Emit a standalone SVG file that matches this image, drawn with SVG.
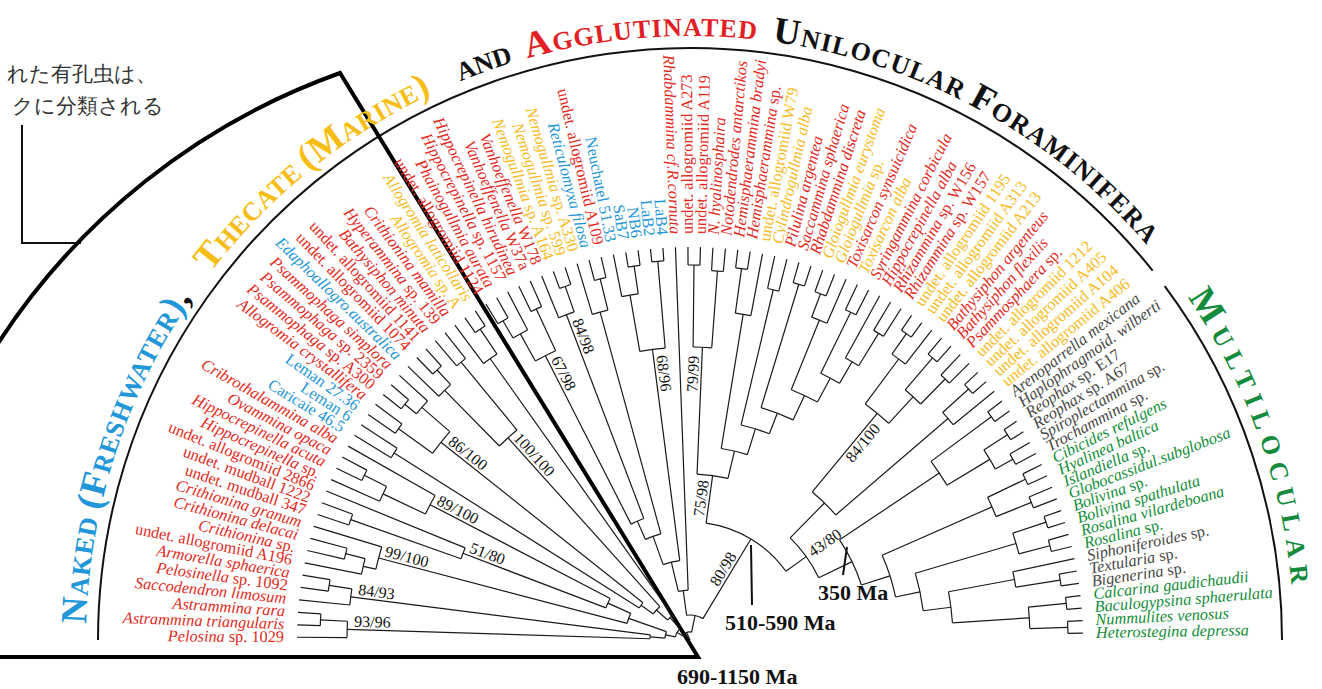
<svg xmlns="http://www.w3.org/2000/svg" xmlns:xlink="http://www.w3.org/1999/xlink" width="1322" height="689" viewBox="0 0 1322 689">
<defs>
<style>
text{font-family:"Liberation Serif","Times New Roman",serif}
.tx text{font-size:16.3px}
.L{text-anchor:end}
.i{font-style:italic}
.r{fill:#e32a1e}.y{fill:#f7bb22}.b{fill:#2496d6}.g{fill:#128c3a}.k{fill:#474747}
.br line,.br circle{stroke:#1a1a1a;stroke-width:1.2;fill:none}
.bs text{font-size:16px;text-anchor:middle;fill:#111}
.hd{font-weight:bold;font-size:26px}
.big{font-size:37px}
.ma{font-weight:bold;font-size:22px;fill:#111}
</style>
<path id="hp" d="M 86,640 A 604 604 0 0 1 1294,640"/>
</defs>
<rect width="1322" height="689" fill="#fff"/>

<g id="note">
<text x="7" y="81" font-family="'Noto Sans CJK JP',sans-serif" font-size="21" fill="#333">れた有孔虫は、</text>
<text x="12" y="113" font-family="'Noto Sans CJK JP',sans-serif" font-size="21" fill="#333">クに分類される</text>
<path d="M 22,125 V 243 H 81" fill="none" stroke="#111" stroke-width="2"/>
</g>

<g id="frame" fill="none" stroke="#111">
<path d="M 98,640 A 592 592 0 0 1 1152.6,270.6" stroke-width="2"/>
<path d="M 1164.7,286.2 A 592 592 0 0 1 1282,640" stroke-width="2"/>
</g>

<g id="highlight">
<path d="M -5,348 A 681 681 0 0 1 340,73 L 698,657 L -5,657" fill="none" stroke="#000" stroke-width="4" stroke-linejoin="miter"/>
</g>

<g id="headers" class="hd">
<text fill="#2196d8" letter-spacing="1"><textPath href="#hp" startOffset="16"><tspan class="big">N</tspan>AKED <tspan class="big">(F</tspan>RESHWATER<tspan class="big">)</tspan><tspan class="big" fill="#111">,</tspan></textPath></text>
<text fill="#f7bd14" letter-spacing="0.3"><textPath href="#hp" startOffset="395"><tspan class="big">T</tspan>HECATE <tspan class="big">(M</tspan>ARINE<tspan class="big">)</tspan></textPath></text>
<text fill="#111"><textPath href="#hp" startOffset="713">AND</textPath></text>
<text fill="#e31e24" letter-spacing="1"><textPath href="#hp" startOffset="784"><tspan class="big">A</tspan>GGLUTINATED</textPath></text>
<text fill="#111" letter-spacing="1.3"><textPath href="#hp" startOffset="1031"><tspan class="big">U</tspan>NILOCULAR <tspan class="big">F</tspan>ORAMINIFERA</textPath></text>
<text fill="#138a3c" letter-spacing="7.5"><textPath href="#hp" startOffset="1533"><tspan class="big">M</tspan>ULTILOCULAR</textPath></text>
</g>

<g id="connectors" class="br" transform="translate(690,640)">
<line x1="343" x2="393" transform="rotate(-179.60)"/>
<line x1="370" x2="393" transform="rotate(-177.78)"/>
<line x1="370" x2="393" transform="rotate(-175.96)"/>
<line x1="342" x2="393" transform="rotate(-174.13)"/>
<line x1="365" x2="393" transform="rotate(-172.31)"/>
<line x1="365" x2="393" transform="rotate(-170.49)"/>
<line x1="335" x2="393" transform="rotate(-168.67)"/>
<line x1="355" x2="393" transform="rotate(-166.84)"/>
<line x1="355" x2="393" transform="rotate(-165.02)"/>
<line x1="322" x2="393" transform="rotate(-163.20)"/>
<line x1="360" x2="393" transform="rotate(-161.38)"/>
<line x1="360" x2="393" transform="rotate(-159.55)"/>
<line x1="243" x2="393" transform="rotate(-157.73)"/>
<line x1="340" x2="393" transform="rotate(-155.91)"/>
<line x1="365" x2="393" transform="rotate(-154.09)"/>
<line x1="365" x2="393" transform="rotate(-152.26)"/>
<line x1="293" x2="393" transform="rotate(-150.44)"/>
<line x1="350" x2="393" transform="rotate(-148.62)"/>
<line x1="350" x2="393" transform="rotate(-146.80)"/>
<line x1="360" x2="393" transform="rotate(-144.97)"/>
<line x1="360" x2="393" transform="rotate(-143.15)"/>
<line x1="370" x2="393" transform="rotate(-141.33)"/>
<line x1="370" x2="393" transform="rotate(-139.51)"/>
<line x1="355" x2="393" transform="rotate(-137.68)"/>
<line x1="350" x2="393" transform="rotate(-135.86)"/>
<line x1="370" x2="393" transform="rotate(-134.04)"/>
<line x1="370" x2="393" transform="rotate(-132.22)"/>
<line x1="360" x2="393" transform="rotate(-130.40)"/>
<line x1="360" x2="393" transform="rotate(-128.57)"/>
<line x1="345" x2="393" transform="rotate(-126.75)"/>
<line x1="375" x2="393" transform="rotate(-124.93)"/>
<line x1="375" x2="393" transform="rotate(-123.11)"/>
<line x1="370" x2="393" transform="rotate(-121.28)"/>
<line x1="370" x2="393" transform="rotate(-119.46)"/>
<line x1="350" x2="393" transform="rotate(-117.64)"/>
<line x1="365" x2="393" transform="rotate(-115.82)"/>
<line x1="365" x2="393" transform="rotate(-113.99)"/>
<line x1="348" x2="393" transform="rotate(-112.17)"/>
<line x1="375" x2="393" transform="rotate(-110.35)"/>
<line x1="375" x2="393" transform="rotate(-108.53)"/>
<line x1="340" x2="393" transform="rotate(-106.70)"/>
<line x1="372" x2="393" transform="rotate(-104.88)"/>
<line x1="372" x2="393" transform="rotate(-103.06)"/>
<line x1="350" x2="393" transform="rotate(-101.24)"/>
<line x1="378" x2="393" transform="rotate(-99.41)"/>
<line x1="378" x2="393" transform="rotate(-97.59)"/>
<line x1="380" x2="393" transform="rotate(-95.77)"/>
<line x1="380" x2="393" transform="rotate(-93.95)"/>
<line x1="50" x2="393" transform="rotate(-92.12)"/>
<line x1="375" x2="393" transform="rotate(-90.30)"/>
<line x1="375" x2="393" transform="rotate(-88.48)"/>
<line x1="370" x2="393" transform="rotate(-86.66)"/>
<line x1="370" x2="393" transform="rotate(-84.83)"/>
<line x1="375" x2="393" transform="rotate(-83.01)"/>
<line x1="375" x2="393" transform="rotate(-81.19)"/>
<line x1="330" x2="393" transform="rotate(-79.37)"/>
<line x1="360" x2="393" transform="rotate(-77.55)"/>
<line x1="360" x2="393" transform="rotate(-75.72)"/>
<line x1="372" x2="393" transform="rotate(-73.90)"/>
<line x1="372" x2="393" transform="rotate(-72.08)"/>
<line x1="370" x2="393" transform="rotate(-70.26)"/>
<line x1="370" x2="393" transform="rotate(-68.43)"/>
<line x1="345" x2="393" transform="rotate(-66.61)"/>
<line x1="365" x2="393" transform="rotate(-64.79)"/>
<line x1="365" x2="393" transform="rotate(-62.97)"/>
<line x1="322" x2="393" transform="rotate(-61.14)"/>
<line x1="360" x2="393" transform="rotate(-59.32)"/>
<line x1="360" x2="393" transform="rotate(-57.50)"/>
<line x1="375" x2="393" transform="rotate(-55.68)"/>
<line x1="375" x2="393" transform="rotate(-53.85)"/>
<line x1="350" x2="393" transform="rotate(-52.03)"/>
<line x1="372" x2="393" transform="rotate(-50.21)"/>
<line x1="372" x2="393" transform="rotate(-48.39)"/>
<line x1="365" x2="393" transform="rotate(-46.56)"/>
<line x1="365" x2="393" transform="rotate(-44.74)"/>
<line x1="375" x2="393" transform="rotate(-42.92)"/>
<line x1="375" x2="393" transform="rotate(-41.10)"/>
<line x1="340" x2="393" transform="rotate(-39.27)"/>
<line x1="375" x2="393" transform="rotate(-37.45)"/>
<line x1="375" x2="393" transform="rotate(-35.63)"/>
<line x1="378" x2="393" transform="rotate(-33.81)"/>
<line x1="378" x2="393" transform="rotate(-31.98)"/>
<line x1="370" x2="393" transform="rotate(-30.16)"/>
<line x1="370" x2="393" transform="rotate(-28.34)"/>
<line x1="372" x2="393" transform="rotate(-26.52)"/>
<line x1="372" x2="393" transform="rotate(-24.70)"/>
<line x1="368" x2="393" transform="rotate(-22.87)"/>
<line x1="368" x2="393" transform="rotate(-21.05)"/>
<line x1="375" x2="393" transform="rotate(-19.23)"/>
<line x1="375" x2="393" transform="rotate(-17.40)"/>
<line x1="372" x2="393" transform="rotate(-15.58)"/>
<line x1="372" x2="393" transform="rotate(-13.76)"/>
<line x1="330" x2="393" transform="rotate(-11.94)"/>
<line x1="375" x2="393" transform="rotate(-10.11)"/>
<line x1="375" x2="393" transform="rotate(-8.29)"/>
<line x1="378" x2="393" transform="rotate(-6.47)"/>
<line x1="378" x2="393" transform="rotate(-4.65)"/>
<line x1="378" x2="393" transform="rotate(-2.82)"/>
<line x1="378" x2="393" transform="rotate(-1.00)"/>
<line x1="343" x2="370" transform="rotate(-176.87)"/>
<line x1="40" x2="343" transform="rotate(-178.235)"/>
<line x1="342" x2="365" transform="rotate(-171.40)"/>
<line x1="40" x2="342" transform="rotate(-172.765)"/>
<line x1="25" x2="40" transform="rotate(-175.50)"/>
<line x1="335" x2="355" transform="rotate(-165.93)"/>
<line x1="322" x2="335" transform="rotate(-167.30)"/>
<line x1="65" x2="322" transform="rotate(-165.25)"/>
<line x1="243" x2="360" transform="rotate(-160.465)"/>
<line x1="90" x2="243" transform="rotate(-159.10)"/>
<line x1="340" x2="365" transform="rotate(-153.175)"/>
<line x1="293" x2="340" transform="rotate(-154.54)"/>
<line x1="90" x2="293" transform="rotate(-152.49)"/>
<line x1="65" x2="90" transform="rotate(-155.795)"/>
<line x1="25" x2="65" transform="rotate(-160.52)"/>
<line x1="15" x2="25" transform="rotate(-168.01)"/>
<line x1="60" x2="350" transform="rotate(-147.71)"/>
<line x1="355" x2="370" transform="rotate(-140.42)"/>
<line x1="318" x2="355" transform="rotate(-139.05)"/>
<line x1="318" x2="360" transform="rotate(-144.06)"/>
<line x1="60" x2="318" transform="rotate(-141.555)"/>
<line x1="45" x2="60" transform="rotate(-144.63)"/>
<line x1="350" x2="370" transform="rotate(-133.13)"/>
<line x1="272" x2="350" transform="rotate(-134.495)"/>
<line x1="272" x2="360" transform="rotate(-129.485)"/>
<line x1="45" x2="272" transform="rotate(-131.99)"/>
<line x1="30" x2="45" transform="rotate(-138.31)"/>
<line x1="345" x2="375" transform="rotate(-124.02)"/>
<line x1="30" x2="345" transform="rotate(-125.385)"/>
<line x1="15" x2="30" transform="rotate(-131.85)"/>
<line x1="8" x2="15" transform="rotate(-149.93)"/>
<line x1="350" x2="370" transform="rotate(-120.37)"/>
<line x1="319" x2="350" transform="rotate(-119.005)"/>
<line x1="319" x2="365" transform="rotate(-114.905)"/>
<line x1="130" x2="319" transform="rotate(-116.955)"/>
<line x1="348" x2="375" transform="rotate(-109.44)"/>
<line x1="130" x2="348" transform="rotate(-110.805)"/>
<line x1="340" x2="372" transform="rotate(-103.97)"/>
<line x1="110" x2="340" transform="rotate(-105.335)"/>
<line x1="350" x2="378" transform="rotate(-98.50)"/>
<line x1="293" x2="350" transform="rotate(-99.87)"/>
<line x1="293" x2="380" transform="rotate(-94.86)"/>
<line x1="80" x2="293" transform="rotate(-97.365)"/>
<line x1="110" x2="130" transform="rotate(-113.88)"/>
<line x1="80" x2="110" transform="rotate(-109.61)"/>
<line x1="50" x2="80" transform="rotate(-103.49)"/>
<line x1="25" x2="50" transform="rotate(-97.805)"/>
<line x1="293" x2="375" transform="rotate(-89.39)"/>
<line x1="293" x2="370" transform="rotate(-85.745)"/>
<line x1="166" x2="293" transform="rotate(-87.57)"/>
<line x1="330" x2="375" transform="rotate(-82.10)"/>
<line x1="194" x2="330" transform="rotate(-80.735)"/>
<line x1="221" x2="360" transform="rotate(-76.635)"/>
<line x1="243" x2="372" transform="rotate(-72.99)"/>
<line x1="345" x2="370" transform="rotate(-69.345)"/>
<line x1="270" x2="345" transform="rotate(-67.98)"/>
<line x1="297" x2="365" transform="rotate(-63.88)"/>
<line x1="322" x2="360" transform="rotate(-58.41)"/>
<line x1="297" x2="322" transform="rotate(-59.775)"/>
<line x1="270" x2="297" transform="rotate(-61.83)"/>
<line x1="243" x2="270" transform="rotate(-64.905)"/>
<line x1="221" x2="243" transform="rotate(-68.95)"/>
<line x1="194" x2="221" transform="rotate(-72.79)"/>
<line x1="166" x2="194" transform="rotate(-76.76)"/>
<line x1="118" x2="166" transform="rotate(-82.165)"/>
<line x1="350" x2="375" transform="rotate(-54.765)"/>
<line x1="294" x2="350" transform="rotate(-53.40)"/>
<line x1="330" x2="372" transform="rotate(-49.30)"/>
<line x1="330" x2="365" transform="rotate(-45.65)"/>
<line x1="294" x2="330" transform="rotate(-47.475)"/>
<line x1="192" x2="294" transform="rotate(-50.44)"/>
<line x1="340" x2="375" transform="rotate(-42.01)"/>
<line x1="192" x2="340" transform="rotate(-40.64)"/>
<line x1="143" x2="192" transform="rotate(-45.54)"/>
<line x1="300" x2="375" transform="rotate(-36.54)"/>
<line x1="350" x2="378" transform="rotate(-32.895)"/>
<line x1="350" x2="370" transform="rotate(-29.25)"/>
<line x1="300" x2="350" transform="rotate(-31.07)"/>
<line x1="180" x2="300" transform="rotate(-33.805)"/>
<line x1="330" x2="372" transform="rotate(-25.61)"/>
<line x1="330" x2="368" transform="rotate(-21.96)"/>
<line x1="210" x2="330" transform="rotate(-23.785)"/>
<line x1="340" x2="375" transform="rotate(-18.315)"/>
<line x1="340" x2="372" transform="rotate(-14.67)"/>
<line x1="235" x2="340" transform="rotate(-16.49)"/>
<line x1="330" x2="375" transform="rotate(-9.20)"/>
<line x1="263" x2="330" transform="rotate(-10.57)"/>
<line x1="340" x2="378" transform="rotate(-5.56)"/>
<line x1="340" x2="378" transform="rotate(-1.91)"/>
<line x1="263" x2="340" transform="rotate(-3.735)"/>
<line x1="235" x2="263" transform="rotate(-7.15)"/>
<line x1="210" x2="235" transform="rotate(-11.82)"/>
<line x1="180" x2="210" transform="rotate(-17.80)"/>
<line x1="143" x2="180" transform="rotate(-25.80)"/>
<line x1="118" x2="143" transform="rotate(-35.67)"/>
<line x1="25" x2="118" transform="rotate(-58.9175)"/>
<line x1="8" x2="25" transform="rotate(-78.36)"/>
<line x1="0" x2="8" transform="rotate(-114.145)"/>
<circle r="370" stroke-dasharray="11.75 4000" transform="rotate(-177.78)"/>
<circle r="343" stroke-dasharray="16.34 4000" transform="rotate(-179.60)"/>
<circle r="365" stroke-dasharray="11.59 4000" transform="rotate(-172.31)"/>
<circle r="342" stroke-dasharray="16.30 4000" transform="rotate(-174.13)"/>
<circle r="40" stroke-dasharray="3.82 4000" transform="rotate(-178.235)"/>
<circle r="355" stroke-dasharray="11.28 4000" transform="rotate(-166.84)"/>
<circle r="335" stroke-dasharray="16.02 4000" transform="rotate(-168.67)"/>
<circle r="322" stroke-dasharray="23.04 4000" transform="rotate(-167.30)"/>
<circle r="360" stroke-dasharray="11.50 4000" transform="rotate(-161.38)"/>
<circle r="243" stroke-dasharray="11.60 4000" transform="rotate(-160.465)"/>
<circle r="365" stroke-dasharray="11.66 4000" transform="rotate(-154.09)"/>
<circle r="340" stroke-dasharray="16.23 4000" transform="rotate(-155.91)"/>
<circle r="293" stroke-dasharray="20.97 4000" transform="rotate(-154.54)"/>
<circle r="90" stroke-dasharray="10.38 4000" transform="rotate(-159.10)"/>
<circle r="65" stroke-dasharray="10.73 4000" transform="rotate(-165.25)"/>
<circle r="25" stroke-dasharray="6.54 4000" transform="rotate(-175.50)"/>
<circle r="350" stroke-dasharray="11.12 4000" transform="rotate(-148.62)"/>
<circle r="370" stroke-dasharray="11.75 4000" transform="rotate(-141.33)"/>
<circle r="355" stroke-dasharray="16.98 4000" transform="rotate(-140.42)"/>
<circle r="360" stroke-dasharray="11.44 4000" transform="rotate(-144.97)"/>
<circle r="318" stroke-dasharray="27.81 4000" transform="rotate(-144.06)"/>
<circle r="60" stroke-dasharray="6.45 4000" transform="rotate(-147.71)"/>
<circle r="370" stroke-dasharray="11.75 4000" transform="rotate(-134.04)"/>
<circle r="350" stroke-dasharray="16.68 4000" transform="rotate(-135.86)"/>
<circle r="360" stroke-dasharray="11.50 4000" transform="rotate(-130.40)"/>
<circle r="272" stroke-dasharray="23.78 4000" transform="rotate(-134.495)"/>
<circle r="45" stroke-dasharray="9.93 4000" transform="rotate(-144.63)"/>
<circle r="375" stroke-dasharray="11.91 4000" transform="rotate(-124.93)"/>
<circle r="345" stroke-dasharray="16.44 4000" transform="rotate(-126.75)"/>
<circle r="30" stroke-dasharray="6.77 4000" transform="rotate(-138.31)"/>
<circle r="15" stroke-dasharray="9.47 4000" transform="rotate(-168.01)"/>
<circle r="370" stroke-dasharray="11.75 4000" transform="rotate(-121.28)"/>
<circle r="350" stroke-dasharray="16.68 4000" transform="rotate(-120.37)"/>
<circle r="365" stroke-dasharray="11.66 4000" transform="rotate(-115.82)"/>
<circle r="319" stroke-dasharray="22.83 4000" transform="rotate(-119.005)"/>
<circle r="375" stroke-dasharray="11.91 4000" transform="rotate(-110.35)"/>
<circle r="348" stroke-dasharray="16.58 4000" transform="rotate(-112.17)"/>
<circle r="372" stroke-dasharray="11.82 4000" transform="rotate(-104.88)"/>
<circle r="340" stroke-dasharray="16.20 4000" transform="rotate(-106.70)"/>
<circle r="378" stroke-dasharray="12.01 4000" transform="rotate(-99.41)"/>
<circle r="350" stroke-dasharray="16.74 4000" transform="rotate(-101.24)"/>
<circle r="380" stroke-dasharray="12.07 4000" transform="rotate(-95.77)"/>
<circle r="293" stroke-dasharray="25.62 4000" transform="rotate(-99.87)"/>
<circle r="130" stroke-dasharray="13.95 4000" transform="rotate(-116.955)"/>
<circle r="110" stroke-dasharray="16.41 4000" transform="rotate(-113.88)"/>
<circle r="80" stroke-dasharray="17.10 4000" transform="rotate(-109.61)"/>
<circle r="50" stroke-dasharray="9.92 4000" transform="rotate(-103.49)"/>
<circle r="375" stroke-dasharray="11.91 4000" transform="rotate(-90.30)"/>
<circle r="370" stroke-dasharray="11.82 4000" transform="rotate(-86.66)"/>
<circle r="293" stroke-dasharray="18.64 4000" transform="rotate(-89.39)"/>
<circle r="375" stroke-dasharray="11.91 4000" transform="rotate(-83.01)"/>
<circle r="330" stroke-dasharray="15.72 4000" transform="rotate(-82.10)"/>
<circle r="360" stroke-dasharray="11.50 4000" transform="rotate(-77.55)"/>
<circle r="372" stroke-dasharray="11.82 4000" transform="rotate(-73.90)"/>
<circle r="370" stroke-dasharray="11.82 4000" transform="rotate(-70.26)"/>
<circle r="345" stroke-dasharray="16.47 4000" transform="rotate(-69.345)"/>
<circle r="365" stroke-dasharray="11.59 4000" transform="rotate(-64.79)"/>
<circle r="360" stroke-dasharray="11.44 4000" transform="rotate(-59.32)"/>
<circle r="322" stroke-dasharray="15.34 4000" transform="rotate(-61.14)"/>
<circle r="297" stroke-dasharray="21.28 4000" transform="rotate(-63.88)"/>
<circle r="270" stroke-dasharray="28.98 4000" transform="rotate(-67.98)"/>
<circle r="243" stroke-dasharray="34.29 4000" transform="rotate(-72.99)"/>
<circle r="221" stroke-dasharray="29.64 4000" transform="rotate(-76.635)"/>
<circle r="194" stroke-dasharray="26.90 4000" transform="rotate(-80.735)"/>
<circle r="166" stroke-dasharray="31.32 4000" transform="rotate(-87.57)"/>
<circle r="375" stroke-dasharray="11.98 4000" transform="rotate(-55.68)"/>
<circle r="350" stroke-dasharray="16.71 4000" transform="rotate(-54.765)"/>
<circle r="372" stroke-dasharray="11.82 4000" transform="rotate(-50.21)"/>
<circle r="365" stroke-dasharray="11.59 4000" transform="rotate(-46.56)"/>
<circle r="330" stroke-dasharray="21.02 4000" transform="rotate(-49.30)"/>
<circle r="294" stroke-dasharray="30.40 4000" transform="rotate(-53.40)"/>
<circle r="375" stroke-dasharray="11.91 4000" transform="rotate(-42.92)"/>
<circle r="340" stroke-dasharray="16.26 4000" transform="rotate(-42.01)"/>
<circle r="192" stroke-dasharray="32.84 4000" transform="rotate(-50.44)"/>
<circle r="375" stroke-dasharray="11.91 4000" transform="rotate(-37.45)"/>
<circle r="378" stroke-dasharray="12.07 4000" transform="rotate(-33.81)"/>
<circle r="370" stroke-dasharray="11.75 4000" transform="rotate(-30.16)"/>
<circle r="350" stroke-dasharray="22.27 4000" transform="rotate(-32.895)"/>
<circle r="300" stroke-dasharray="28.64 4000" transform="rotate(-36.54)"/>
<circle r="372" stroke-dasharray="11.82 4000" transform="rotate(-26.52)"/>
<circle r="368" stroke-dasharray="11.69 4000" transform="rotate(-22.87)"/>
<circle r="330" stroke-dasharray="21.02 4000" transform="rotate(-25.61)"/>
<circle r="375" stroke-dasharray="11.98 4000" transform="rotate(-19.23)"/>
<circle r="372" stroke-dasharray="11.82 4000" transform="rotate(-15.58)"/>
<circle r="340" stroke-dasharray="21.63 4000" transform="rotate(-18.315)"/>
<circle r="375" stroke-dasharray="11.91 4000" transform="rotate(-10.11)"/>
<circle r="330" stroke-dasharray="15.78 4000" transform="rotate(-11.94)"/>
<circle r="378" stroke-dasharray="12.01 4000" transform="rotate(-6.47)"/>
<circle r="378" stroke-dasharray="12.01 4000" transform="rotate(-2.82)"/>
<circle r="340" stroke-dasharray="21.66 4000" transform="rotate(-5.56)"/>
<circle r="263" stroke-dasharray="31.37 4000" transform="rotate(-10.57)"/>
<circle r="235" stroke-dasharray="38.31 4000" transform="rotate(-16.49)"/>
<circle r="210" stroke-dasharray="43.85 4000" transform="rotate(-23.785)"/>
<circle r="180" stroke-dasharray="50.28 4000" transform="rotate(-33.805)"/>
<circle r="143" stroke-dasharray="49.27 4000" transform="rotate(-45.54)"/>
<circle r="118" stroke-dasharray="95.76 4000" transform="rotate(-82.165)"/>
<circle r="25" stroke-dasharray="16.97 4000" transform="rotate(-97.805)"/>
<circle r="8" stroke-dasharray="9.99 4000" transform="rotate(-149.93)"/>
</g>

<g id="taxa" class="tx" transform="translate(690,640)">
<text id="t0" class="r L" y="5" transform="rotate(-179.60)translate(406)rotate(180)"><tspan class="i">Pelosina</tspan> sp. 1029</text>
<text id="t1" class="r L i" y="5" transform="rotate(-177.78)translate(406)rotate(180)">Astrammina triangularis</text>
<text id="t2" class="r L i" y="5" transform="rotate(-175.96)translate(406)rotate(180)">Astrammina rara</text>
<text id="t3" class="r L i" y="5" transform="rotate(-174.13)translate(406)rotate(180)">Saccodendron limosum</text>
<text id="t4" class="r L" y="5" transform="rotate(-172.31)translate(406)rotate(180)"><tspan class="i">Pelosinella</tspan> sp. 1092</text>
<text id="t5" class="r L i" y="5" transform="rotate(-170.49)translate(406)rotate(180)">Armorella sphaerica</text>
<text id="t6" class="r L" y="5" transform="rotate(-168.67)translate(406)rotate(180)">undet. allogromiid A196</text>
<text id="t7" class="r L" y="5" transform="rotate(-166.84)translate(406)rotate(180)"><tspan class="i">Crithionina</tspan> sp.</text>
<text id="t8" class="r L i" y="5" transform="rotate(-165.02)translate(406)rotate(180)">Crithionina delacai</text>
<text id="t9" class="r L i" y="5" transform="rotate(-163.20)translate(406)rotate(180)">Crithionina granum</text>
<text id="t10" class="r L" y="5" transform="rotate(-161.38)translate(406)rotate(180)">undet. mudball 347</text>
<text id="t11" class="r L" y="5" transform="rotate(-159.55)translate(406)rotate(180)">undet. mudball 1222</text>
<text id="t12" class="r L" y="5" transform="rotate(-157.73)translate(406)rotate(180)">undet. allogromiid 2866</text>
<text id="t13" class="r L" y="5" transform="rotate(-155.91)translate(406)rotate(180)"><tspan class="i">Hippocrepinella</tspan> sp.</text>
<text id="t14" class="r L i" y="5" transform="rotate(-154.09)translate(406)rotate(180)">Hippocrepinella acuta</text>
<text id="t15" class="r L i" y="5" transform="rotate(-152.26)translate(406)rotate(180)">Ovammina opaca</text>
<text id="t16" class="r L i" y="5" transform="rotate(-150.44)translate(406)rotate(180)">Cribrothalammina alba</text>
<text id="t17" class="b L" y="5" transform="rotate(-148.62)translate(406)rotate(180)">Caricaie 46.5</text>
<text id="t18" class="b L" y="5" transform="rotate(-146.80)translate(406)rotate(180)">Leman 6</text>
<text id="t19" class="b L" y="5" transform="rotate(-144.97)translate(406)rotate(180)">Leman 27.36</text>
<text id="t20" class="r L i" y="5" transform="rotate(-143.15)translate(406)rotate(180)">Allogromia crystallifera</text>
<text id="t21" class="r L" y="5" transform="rotate(-141.33)translate(406)rotate(180)"><tspan class="i">Psammophaga</tspan> sp. A300</text>
<text id="t22" class="r L" y="5" transform="rotate(-139.51)translate(406)rotate(180)"><tspan class="i">Psammophaga</tspan> sp. 2359</text>
<text id="t23" class="r L i" y="5" transform="rotate(-137.68)translate(406)rotate(180)">Psammophaga simplora</text>
<text id="t24" class="b L i" y="5" transform="rotate(-135.86)translate(406)rotate(180)">Edaphoallogro.australica</text>
<text id="t25" class="r L" y="5" transform="rotate(-134.04)translate(406)rotate(180)">undet. allogromiid 1074</text>
<text id="t26" class="r L" y="5" transform="rotate(-132.22)translate(406)rotate(180)">undet. allogromiid 1141</text>
<text id="t27" class="r L i" y="5" transform="rotate(-130.40)translate(406)rotate(180)">Bathysiphon minuta</text>
<text id="t28" class="r L" y="5" transform="rotate(-128.57)translate(406)rotate(180)"><tspan class="i">Hyperammina</tspan> sp. 139</text>
<text id="t29" class="r L i" y="5" transform="rotate(-126.75)translate(406)rotate(180)">Crithionina mamilla</text>
<text id="t30" class="y L" y="5" transform="rotate(-124.93)translate(406)rotate(180)"><tspan class="i">Allogromia</tspan> sp. A</text>
<text id="t31" class="y L i" y="5" transform="rotate(-123.11)translate(406)rotate(180)">Allogromia laticollaris</text>
<text id="t32" class="r L" y="5" transform="rotate(-121.28)translate(406)rotate(180)">undet. allogromiid 1124</text>
<text id="t33" class="r L i" y="5" transform="rotate(-119.46)translate(406)rotate(180)">Phainogullmia aurata</text>
<text id="t34" class="r L" y="5" transform="rotate(-117.64)translate(406)rotate(180)"><tspan class="i">Hippocrepinella</tspan> sp. 1157</text>
<text id="t35" class="r L i" y="5" transform="rotate(-115.82)translate(406)rotate(180)">Hippocrepinella hirudinea</text>
<text id="t36" class="r L" y="5" transform="rotate(-113.99)translate(406)rotate(180)"><tspan class="i">Vanhoeffenella</tspan> W37a</text>
<text id="t37" class="r L" y="5" transform="rotate(-112.17)translate(406)rotate(180)"><tspan class="i">Vanhoeffenella</tspan> W178</text>
<text id="t38" class="y L" y="5" transform="rotate(-110.35)translate(406)rotate(180)"><tspan class="i">Nemogullmia</tspan> sp. A164</text>
<text id="t39" class="y L" y="5" transform="rotate(-108.53)translate(406)rotate(180)"><tspan class="i">Nemogullmia</tspan> sp. 599</text>
<text id="t40" class="y L" y="5" transform="rotate(-106.70)translate(406)rotate(180)"><tspan class="i">Nemogullmia</tspan> sp. A330</text>
<text id="t41" class="b L i" y="5" transform="rotate(-104.88)translate(406)rotate(180)">Reticulomyxa filosa</text>
<text id="t42" class="r L" y="5" transform="rotate(-103.06)translate(406)rotate(180)">undet. allogromiid A109</text>
<text id="t43" class="b L" y="5" transform="rotate(-101.24)translate(406)rotate(180)">Neuchatel 51.33</text>
<text id="t44" class="b L" y="5" transform="rotate(-99.41)translate(406)rotate(180)">SaB7</text>
<text id="t45" class="b L" y="5" transform="rotate(-97.59)translate(406)rotate(180)">NB6</text>
<text id="t46" class="b L" y="5" transform="rotate(-95.77)translate(406)rotate(180)">LaB2</text>
<text id="t47" class="b L" y="5" transform="rotate(-93.95)translate(406)rotate(180)">LaB4</text>
<text id="t48" class="r L i" y="5" transform="rotate(-92.12)translate(406)rotate(180)">Rhabdammina cf.R.cornuta</text>
<text id="t49" class="r" y="5" transform="rotate(-90.30)translate(406)">undet. allogromiid A273</text>
<text id="t50" class="r" y="5" transform="rotate(-88.48)translate(406)">undet. allogromiid A119</text>
<text id="t51" class="r i" y="5" transform="rotate(-86.66)translate(406)">N. hyalinosphaira</text>
<text id="t52" class="r i" y="5" transform="rotate(-84.83)translate(406)">Notodendrodes antarctikos</text>
<text id="t53" class="r i" y="5" transform="rotate(-83.01)translate(406)">Hemisphaerammina bradyi</text>
<text id="t54" class="r" y="5" transform="rotate(-81.19)translate(406)"><tspan class="i">Hemisphaerammina</tspan> sp.</text>
<text id="t55" class="y" y="5" transform="rotate(-79.37)translate(406)">undet. allogromiid W79</text>
<text id="t56" class="y i" y="5" transform="rotate(-77.55)translate(406)">Cylindrogullmia alba</text>
<text id="t57" class="r i" y="5" transform="rotate(-75.72)translate(406)">Pilulina argentea</text>
<text id="t58" class="r i" y="5" transform="rotate(-73.90)translate(406)">Saccammina sphaerica</text>
<text id="t59" class="r i" y="5" transform="rotate(-72.08)translate(406)">Rhabdammina discreta</text>
<text id="t60" class="y i" y="5" transform="rotate(-70.26)translate(406)">Gloiogullmia eurystoma</text>
<text id="t61" class="y" y="5" transform="rotate(-68.43)translate(406)"><tspan class="i">Gloiogullmia</tspan> sp.</text>
<text id="t62" class="r i" y="5" transform="rotate(-66.61)translate(406)">Toxisarcon synsuicidica</text>
<text id="t63" class="y i" y="5" transform="rotate(-64.79)translate(406)">Toxisarcon alba</text>
<text id="t64" class="r i" y="5" transform="rotate(-62.97)translate(406)">Syringammina corbicula</text>
<text id="t65" class="r i" y="5" transform="rotate(-61.14)translate(406)">Hippocrepinella alba</text>
<text id="t66" class="r" y="5" transform="rotate(-59.32)translate(406)"><tspan class="i">Rhizammina</tspan> sp. W156</text>
<text id="t67" class="r" y="5" transform="rotate(-57.50)translate(406)"><tspan class="i">Rhizammina</tspan> sp. W157</text>
<text id="t68" class="y" y="5" transform="rotate(-55.68)translate(406)">undet. allogromiid 1195</text>
<text id="t69" class="y" y="5" transform="rotate(-53.85)translate(406)">undet. allogromiid A313</text>
<text id="t70" class="y" y="5" transform="rotate(-52.03)translate(406)">undet. allogromiid A213</text>
<text id="t71" class="r i" y="5" transform="rotate(-50.21)translate(406)">Bathysiphon argenteus</text>
<text id="t72" class="r i" y="5" transform="rotate(-48.39)translate(406)">Bathysiphon flexilis</text>
<text id="t73" class="r" y="5" transform="rotate(-46.56)translate(406)"><tspan class="i">Psammosphaera</tspan> sp.</text>
<text id="t74" class="y" y="5" transform="rotate(-44.74)translate(406)">undet. allogromiid 1212</text>
<text id="t75" class="y" y="5" transform="rotate(-42.92)translate(406)">undet. allogromiid A405</text>
<text id="t76" class="y" y="5" transform="rotate(-41.10)translate(406)">undet. allogromiid A104</text>
<text id="t77" class="y" y="5" transform="rotate(-39.27)translate(406)">undet. allogromiid A406</text>
<text id="t78" class="k i" y="5" transform="rotate(-37.45)translate(406)">Arenoparrella mexicana</text>
<text id="t79" class="k i" y="5" transform="rotate(-35.63)translate(406)">Haplophragmoid. wilberti</text>
<text id="t80" class="k" y="5" transform="rotate(-33.81)translate(406)"><tspan class="i">Reophax</tspan> sp. E17</text>
<text id="t81" class="k" y="5" transform="rotate(-31.98)translate(406)"><tspan class="i">Reophax</tspan> sp. A67</text>
<text id="t82" class="k" y="5" transform="rotate(-30.16)translate(406)"><tspan class="i">Spiroplectammina</tspan> sp.</text>
<text id="t83" class="k" y="5" transform="rotate(-28.34)translate(406)"><tspan class="i">Trochammina</tspan> sp.</text>
<text id="t84" class="g i" y="5" transform="rotate(-26.52)translate(406)">Cibicides refulgens</text>
<text id="t85" class="g i" y="5" transform="rotate(-24.70)translate(406)">Hyalinea baltica</text>
<text id="t86" class="g" y="5" transform="rotate(-22.87)translate(406)"><tspan class="i">Islandiella</tspan> sp.</text>
<text id="t87" class="g i" y="5" transform="rotate(-21.05)translate(406)">Globocassidul.subglobosa</text>
<text id="t88" class="g" y="5" transform="rotate(-19.23)translate(406)"><tspan class="i">Bolivina</tspan> sp.</text>
<text id="t89" class="g i" y="5" transform="rotate(-17.40)translate(406)">Bolivina spathulata</text>
<text id="t90" class="g i" y="5" transform="rotate(-15.58)translate(406)">Rosalina vilardeboana</text>
<text id="t91" class="g" y="5" transform="rotate(-13.76)translate(406)"><tspan class="i">Rosalina</tspan> sp.</text>
<text id="t92" class="k" y="5" transform="rotate(-11.94)translate(406)"><tspan class="i">Siphoniferoides</tspan> sp.</text>
<text id="t93" class="k" y="5" transform="rotate(-10.11)translate(406)"><tspan class="i">Textularia</tspan> sp.</text>
<text id="t94" class="k" y="5" transform="rotate(-8.29)translate(406)"><tspan class="i">Bigenerina</tspan> sp.</text>
<text id="t95" class="g i" y="5" transform="rotate(-6.47)translate(406)">Calcarina gaudichaudii</text>
<text id="t96" class="g i" y="5" transform="rotate(-4.65)translate(406)">Baculogypsina sphaerulata</text>
<text id="t97" class="g i" y="5" transform="rotate(-2.82)translate(406)">Nummulites venosus</text>
<text id="t98" class="g i" y="5" transform="rotate(-1.00)translate(406)">Heterostegina depressa</text>
</g>

<g id="support" class="bs">
<g transform="translate(690,640)">
<text y="-3" transform="rotate(-178.235)translate(318)rotate(180)">93/96</text>
<text y="-3" transform="rotate(-172.765)translate(317)rotate(180)">84/93</text>
<text y="-3" transform="rotate(-165.25)translate(295)rotate(180)">99/100</text>
<text y="-3" transform="rotate(-159.10)translate(220)rotate(180)">51/80</text>
<text y="-3" transform="rotate(-152.49)translate(266)rotate(180)">89/100</text>
<text y="-3" transform="rotate(-141.555)translate(290)rotate(180)">86/100</text>
<text y="-3" transform="rotate(-131.99)translate(242)rotate(180)">100/100</text>
<text y="-3" transform="rotate(-116.955)translate(295)rotate(180)">67/98</text>
<text y="-3" transform="rotate(-110.805)translate(322)rotate(180)">84/98</text>
<text y="-3" transform="rotate(-97.365)translate(268)rotate(180)">68/96</text>
<text y="-3" transform="rotate(-87.57)translate(266)">79/99</text>
<text y="-3" transform="rotate(-82.165)translate(142)">75/98</text>
<text y="-3" transform="rotate(-58.9175)translate(78)">80/98</text>
<text y="13" transform="rotate(-50.44)translate(262)">84/100</text>
</g>
<text x="825" y="548" transform="rotate(-35 825 543)">43/80</text>
</g>

<g id="ages">
<line x1="751" y1="545" x2="752" y2="605" stroke="#111" stroke-width="2"/>
<line x1="847" y1="547" x2="843" y2="575" stroke="#111" stroke-width="2"/>
<text class="ma" x="725" y="630">510-590 Ma</text>
<text class="ma" x="818" y="600">350 Ma</text>
<text class="ma" x="677" y="684">690-1150 Ma</text>
</g>
</svg>
